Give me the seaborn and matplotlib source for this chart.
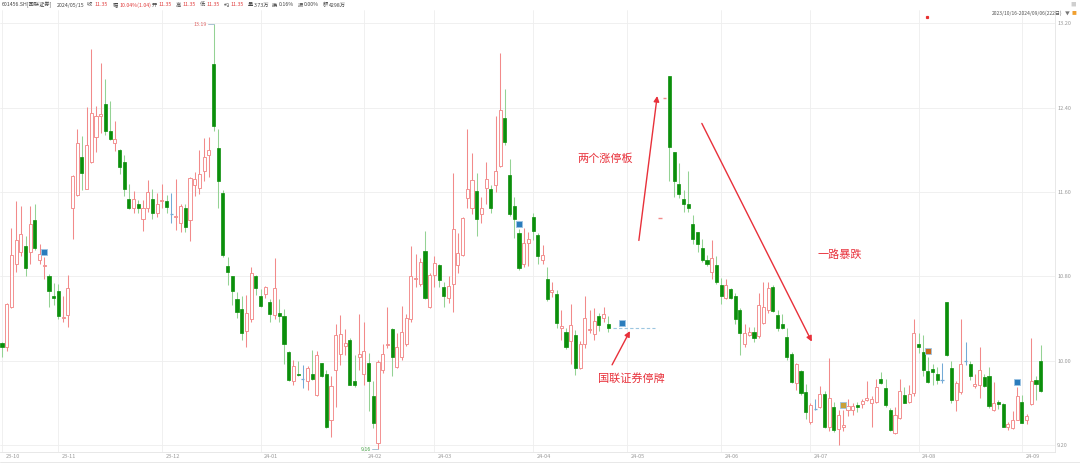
import numpy as np
import pandas as pd
import matplotlib
matplotlib.use("Agg")
import matplotlib.pyplot as plt
import matplotlib.transforms as mtransforms
import seaborn as sns

# trading calendar 2023-10-16 .. 2024-09-06 (SSE holidays removed)
holidays = ["2024-01-01", "2024-02-09", "2024-02-12", "2024-02-13", "2024-02-14",
            "2024-02-15", "2024-02-16", "2024-04-04", "2024-04-05",
            "2024-05-01", "2024-05-02", "2024-05-03", "2024-06-10"]
suspend_start, suspend_end = "2024-04-26", "2024-05-14"

# daily OHLC of traded days (suspension excluded)
opens = [
    10.17, 10.13, 10.51, 10.92, 11.03, 11.09, 11.03, 11.33, 10.95, 10.90,
    10.80, 10.61, 10.66, 10.40, 10.43, 11.45, 11.57, 11.93, 11.63, 11.88,
    12.12, 12.32, 12.43, 12.18, 12.06, 12.00, 11.88, 11.53, 11.45, 11.49,
    11.34, 11.45, 11.53, 11.40, 11.51, 11.51, 11.39, 11.36, 11.31, 11.45,
    11.33, 11.67, 11.64, 11.80, 11.95, 12.81, 12.02, 11.59, 10.90, 10.80,
    10.58, 10.49, 10.28, 10.39, 10.80, 10.61, 10.63, 10.56, 10.43, 10.45,
    10.42, 10.08, 9.81, 9.87, 9.83, 9.81, 9.87, 9.67, 9.98, 9.87,
    9.44, 9.91, 10.06, 10.14, 10.20, 9.81, 10.03, 9.87, 9.98, 9.66,
    9.22, 9.91, 10.15, 10.30, 9.94, 10.03, 10.16, 10.39, 10.77, 10.73,
    11.04, 10.51, 10.81, 10.91, 10.70, 10.59, 10.73, 10.91, 11.00, 11.54,
    11.45, 11.61, 11.39, 11.64, 11.63, 11.67, 11.85, 12.30, 11.76, 11.47,
    11.21, 10.92, 11.12, 11.36, 11.19, 10.95, 10.77, 10.65, 10.63, 10.31,
    10.27, 10.19, 10.24, 9.93, 10.16, 10.29, 10.25, 10.42, 10.40, 10.35,
    11.35, 12.49, 12.70, 11.98, 11.68, 11.53, 11.49, 11.30, 11.22, 11.07,
    10.95, 10.84, 10.91, 10.72, 10.59, 10.68, 10.61, 10.48, 10.16, 10.24,
    10.27, 10.23, 10.36, 10.48, 10.70, 10.43, 10.35, 10.22, 10.06, 9.79,
    9.90, 9.70, 9.42, 9.54, 9.56, 9.68, 9.37, 9.56, 9.35, 9.37,
    9.53, 9.53, 9.58, 9.59, 9.63, 9.60, 9.61, 9.83, 9.74, 9.53,
    9.31, 9.46, 9.67, 9.61, 9.69, 10.16, 10.08, 9.90, 9.92, 9.87,
    9.82, 10.56, 9.93, 9.63, 9.70, 10.00, 9.97, 9.76, 9.77, 9.84,
    9.85, 9.53, 9.61, 9.59, 9.37, 9.36, 9.44, 9.61, 9.44, 9.59, 9.82, 10.00,
]
highs = [
    10.18, 10.55, 11.26, 11.51, 11.47, 11.18, 11.47, 11.49, 11.11, 10.98,
    10.82, 10.74, 10.73, 10.61, 10.81, 11.76, 12.20, 12.13, 12.41, 12.96,
    12.42, 12.82, 12.67, 12.46, 12.27, 12.01, 11.95, 11.68, 11.61, 11.52,
    11.52, 11.71, 11.63, 11.59, 11.68, 11.57, 11.59, 11.72, 11.49, 11.49,
    11.74, 11.79, 12.00, 12.11, 12.12, 13.19, 12.20, 11.62, 10.98, 10.80,
    10.65, 10.61, 10.62, 10.89, 10.81, 10.68, 10.71, 10.58, 10.97, 10.58,
    10.49, 10.09, 10.01, 10.00, 9.96, 9.95, 10.10, 10.09, 9.98, 9.91,
    9.85, 10.35, 10.43, 10.30, 10.21, 10.05, 10.44, 10.37, 10.07, 9.81,
    10.01, 10.16, 10.51, 10.31, 10.26, 10.52, 10.44, 11.09, 11.01, 10.97,
    11.23, 10.83, 10.99, 10.92, 10.75, 10.80, 11.78, 11.21, 11.36, 12.20,
    11.97, 11.78, 11.55, 11.88, 11.67, 12.32, 12.92, 12.58, 11.91, 11.55,
    11.25, 11.26, 11.22, 11.40, 11.21, 11.10, 10.89, 10.75, 10.67, 10.48,
    10.31, 10.54, 10.29, 10.19, 10.61, 10.48, 10.50, 10.45, 10.51, 10.42,
    11.35, 12.49, 12.70, 11.98, 11.87, 11.62, 11.80, 11.38, 11.22, 11.15,
    11.00, 11.14, 10.99, 10.78, 10.77, 10.69, 10.64, 10.50, 10.35, 10.32,
    10.32, 10.64, 10.75, 10.75, 10.72, 10.48, 10.44, 10.31, 10.08, 9.98,
    9.91, 9.78, 9.60, 9.64, 9.76, 9.71, 10.02, 9.61, 9.53, 9.53,
    9.64, 9.60, 9.61, 9.64, 9.81, 9.66, 9.83, 9.89, 9.83, 9.55,
    9.56, 9.83, 9.75, 9.77, 10.39, 10.26, 10.24, 10.03, 9.97, 9.94,
    9.98, 10.56, 10.00, 9.81, 10.39, 10.18, 10.00, 9.87, 10.13, 9.87,
    9.94, 9.80, 9.63, 9.60, 9.42, 9.52, 9.75, 9.67, 9.49, 10.21, 9.85, 10.15,
]
lows = [
    10.03, 10.09, 10.50, 10.84, 10.99, 10.80, 10.92, 11.05, 10.92, 10.77,
    10.51, 10.53, 10.39, 10.37, 10.32, 11.15, 11.56, 11.62, 11.63, 11.87,
    11.98, 12.16, 12.14, 12.09, 11.99, 11.77, 11.56, 11.44, 11.40, 11.40,
    11.23, 11.41, 11.34, 11.36, 11.45, 11.40, 11.31, 11.24, 11.22, 11.22,
    11.13, 11.56, 11.58, 11.70, 11.74, 12.18, 11.45, 10.98, 10.72, 10.53,
    10.40, 10.20, 10.13, 10.37, 10.62, 10.51, 10.59, 10.37, 10.39, 10.37,
    9.97, 9.81, 9.77, 9.85, 9.74, 9.72, 9.82, 9.66, 9.84, 9.36,
    9.28, 9.56, 9.96, 10.05, 9.77, 9.75, 9.91, 9.77, 9.52, 9.36,
    9.16, 9.88, 10.12, 9.85, 9.93, 10.01, 10.14, 10.37, 10.70, 10.71,
    10.58, 10.50, 10.70, 10.70, 10.51, 10.55, 10.46, 10.83, 10.99, 11.45,
    11.39, 11.18, 11.31, 11.49, 11.40, 11.60, 11.84, 12.05, 11.37, 11.16,
    10.86, 10.89, 10.90, 11.14, 10.92, 10.92, 10.57, 10.60, 10.31, 10.20,
    10.11, 9.97, 9.86, 9.92, 10.12, 10.26, 10.20, 10.28, 10.37, 10.27,
    11.35, 12.49, 11.70, 11.55, 11.54, 11.41, 11.41, 11.11, 11.03, 10.94,
    10.90, 10.77, 10.73, 10.54, 10.58, 10.58, 10.35, 10.05, 10.13, 10.23,
    10.18, 10.21, 10.35, 10.45, 10.46, 10.28, 10.30, 10.01, 9.79, 9.72,
    9.67, 9.45, 9.40, 9.53, 9.55, 9.36, 9.33, 9.32, 9.20, 9.33,
    9.47, 9.48, 9.51, 9.55, 9.62, 9.37, 9.60, 9.78, 9.56, 9.33,
    9.30, 9.45, 9.60, 9.60, 9.66, 10.07, 9.85, 9.79, 9.77, 9.78,
    9.79, 10.04, 9.60, 9.52, 9.68, 9.96, 9.82, 9.74, 9.65, 9.75,
    9.55, 9.52, 9.54, 9.37, 9.34, 9.35, 9.44, 9.41, 9.40, 9.58, 9.63, 9.70,
]
closes = [
    10.13, 10.54, 11.00, 11.14, 11.20, 10.88, 11.30, 11.07, 11.01, 10.91,
    10.66, 10.59, 10.42, 10.41, 10.69, 11.75, 12.06, 11.78, 12.05, 12.35,
    12.32, 12.34, 12.18, 12.10, 12.10, 11.84, 11.63, 11.45, 11.53, 11.45,
    11.45, 11.60, 11.40, 11.49, 11.52, 11.46, 11.39, 11.37, 11.47, 11.27,
    11.73, 11.72, 11.77, 11.93, 12.00, 12.23, 11.70, 11.00, 10.84, 10.66,
    10.46, 10.26, 10.45, 10.83, 10.69, 10.52, 10.70, 10.44, 10.69, 10.42,
    10.16, 9.82, 9.95, 9.86, 9.83, 9.93, 9.83, 10.05, 9.85, 9.37,
    9.76, 10.24, 10.25, 10.17, 9.77, 9.77, 10.06, 10.09, 9.81, 9.41,
    9.99, 10.06, 10.16, 10.03, 10.13, 10.27, 10.40, 10.80, 10.78, 10.94,
    10.59, 10.81, 10.93, 10.76, 10.61, 10.71, 11.25, 11.02, 11.35, 11.63,
    11.71, 11.34, 11.45, 11.72, 11.45, 11.80, 12.38, 12.07, 11.39, 11.34,
    10.88, 11.12, 11.15, 11.23, 10.99, 11.00, 10.58, 10.67, 10.36, 10.33,
    10.13, 10.34, 9.93, 10.16, 10.40, 10.30, 10.38, 10.34, 10.44, 10.31,
    11.35, 12.49, 12.03, 11.70, 11.58, 11.49, 11.45, 11.15, 11.11, 10.95,
    10.92, 10.97, 10.75, 10.61, 10.72, 10.59, 10.39, 10.26, 10.26, 10.27,
    10.21, 10.53, 10.51, 10.69, 10.47, 10.31, 10.31, 10.03, 9.80, 9.97,
    9.69, 9.51, 9.58, 9.54, 9.68, 9.37, 9.65, 9.34, 9.48, 9.39,
    9.57, 9.57, 9.56, 9.62, 9.65, 9.64, 9.75, 9.79, 9.58, 9.34,
    9.48, 9.71, 9.60, 9.68, 10.26, 10.13, 9.91, 9.80, 9.89, 9.82,
    9.82, 10.05, 9.63, 9.79, 9.97, 10.00, 9.85, 9.78, 9.91, 9.76,
    9.57, 9.60, 9.59, 9.37, 9.40, 9.44, 9.66, 9.41, 9.47, 9.81, 9.78, 9.71,
]

# signal squares shown by the software (day number, price, kind)
signal_day = [9, 110, 132, 179, 197, 216]
signal_price = [11.03, 11.30, 10.36, 9.58, 10.09, 9.80]
signal_kind = ["b", "b", "b", "y", "o", "b"]

y_ticks = [9.20, 10.00, 10.80, 11.60, 12.40, 13.20]

# ---- build frame ----
dates = pd.bdate_range("2023-10-16", "2024-09-06")
dates = dates[~dates.isin(pd.to_datetime(holidays))]
suspended = (dates >= suspend_start) & (dates <= suspend_end)
df = pd.DataFrame(index=dates, columns=["open", "high", "low", "close"], dtype=float)
df.loc[~suspended, "open"] = opens
df.loc[~suspended, "high"] = highs
df.loc[~suspended, "low"] = lows
df.loc[~suspended, "close"] = closes
df["x"] = np.arange(len(df))

sns.set_theme(style="white")
plt.rcParams["font.family"] = ["Noto Sans CJK SC", "DejaVu Sans"]

RED = "#f28a8a"
GREEN = "#0b8f0b"
GREEN_WICK = "#94d294"
BLUE = "#74aad6"
GRID = "#eeeeee"
TXT = "#9a9a9a"
ANN = "#e8303a"

fig = plt.figure(figsize=(10.8, 4.63), dpi=100)
ax = fig.add_axes([0, 11 / 463, 1055 / 1080, 442 / 463])

d = df.dropna()
x = d["x"].values
o, h, l, c = d["open"].values, d["high"].values, d["low"].values, d["close"].values
up = c > o
dn = c < o
flat = c == o
one_price = flat & (h == l)
cross = flat & ~one_price
W = 0.66

# up candles: hollow red
ax.vlines(x[up], np.maximum(o, c)[up], h[up], color=RED, lw=0.75, zorder=2)
ax.vlines(x[up], l[up], np.minimum(o, c)[up], color=RED, lw=0.75, zorder=2)
ax.bar(x[up], (c - o)[up], bottom=o[up], width=W, facecolor="white",
       edgecolor=RED, linewidth=0.65, zorder=3)
# down candles: solid green
ax.vlines(x[dn], l[dn], h[dn], color=GREEN_WICK, lw=0.75, zorder=2)
ax.bar(x[dn], (o - c)[dn], bottom=c[dn], width=W, color=GREEN,
       edgecolor=GREEN, linewidth=0.5, zorder=3)
# doji
ax.vlines(x[cross], l[cross], h[cross], color=BLUE, lw=0.75, zorder=2)
ax.hlines(c[cross], x[cross] - W / 2, x[cross] + W / 2, color=BLUE, lw=0.9, zorder=3)
ax.hlines(c[one_price], x[one_price] - W / 2, x[one_price] + W / 2, color=RED, lw=1.0, zorder=3)

# suspension: dashed line at the last close
last_close = df.loc[~suspended & (df.index < suspend_start), "close"].iloc[-1]
susp = pd.DataFrame({"x": df["x"][suspended].values, "y": last_close})
sns.lineplot(data=susp, x="x", y="y", ax=ax, color="#9cc6e0", lw=0.8,
             linestyle=(0, (3, 2)), zorder=2)

# signal squares
sig = pd.DataFrame({"x": signal_day, "y": signal_price, "kind": signal_kind})
sns.scatterplot(data=sig, x="x", y="y", hue="kind", ax=ax, marker="s", s=18,
                palette={"b": "#2a7cbc", "y": "#c9a13a", "o": "#c8661e"},
                edgecolor="#9cc4e4", linewidth=0.6, legend=False, zorder=4)

# max / min labels
imax = d["high"].idxmax()
imin = d["low"].idxmin()
xmax, vmax = df.loc[imax, "x"], df.loc[imax, "high"]
xmin, vmin = df.loc[imin, "x"], df.loc[imin, "low"]
ax.plot([xmax - 1.2, xmax], [vmax, vmax], color="#9bb9cc", lw=0.6)
ax.text(xmax - 1.4, vmax, f"{vmax:.2f}", color="#e06666", fontsize=3.8, ha="right", va="center")
ax.plot([xmin - 1.2, xmin], [vmin, vmin], color="#9bb9cc", lw=0.6)
ax.text(xmin - 1.4, vmin, f"{vmin:.2f}", color="#3e9e3e", fontsize=3.8, ha="right", va="center")

# annotations
arrow = dict(arrowstyle="-|>", color=ANN, lw=1.0, mutation_scale=8, shrinkA=0, shrinkB=0)
ax.annotate("", xy=(139.4, 12.51), xytext=(135.5, 11.14), arrowprops=arrow)
ax.text(128.3, 11.92, "两个涨停板", color=ANN, fontsize=8, ha="center", va="center")
ax.annotate("", xy=(172.3, 10.18), xytext=(148.9, 12.25), arrowprops=arrow)
ax.text(178.3, 11.00, "一路暴跌", color=ANN, fontsize=8, ha="center", va="center")
ax.annotate("", xy=(133.6, 10.28), xytext=(129.8, 9.96), arrowprops=arrow)
ax.text(133.8, 9.83, "国联证券停牌", color=ANN, fontsize=8, ha="center", va="center")
ax.plot([196.8], [13.26], marker="s", color="#e83030", markersize=1.3)

# axes
ax.set_xlim(-0.43, 224.04)
ax.set_ylim(9.133, 13.326)
month_first = df.groupby(df.index.to_period("M"))["x"].min()
ax.set_xticks(month_first.values)
ax.set_xticklabels([p.strftime("%y-%m") for p in month_first.index])
ax.set_yticks(y_ticks)
ax.set_yticklabels([f"{v:.2f}" for v in y_ticks])
ax.yaxis.tick_right()
ax.tick_params(axis="y", length=0, pad=1.5, labelsize=4, labelcolor=TXT)
ax.tick_params(axis="x", length=0, pad=1.5, labelsize=4, labelcolor=TXT)
offset = mtransforms.ScaledTranslation(2.5 / 72, 0, fig.dpi_scale_trans)
for lab in ax.get_xticklabels():
    lab.set_ha("left")
    lab.set_transform(lab.get_transform() + offset)
ax.grid(True, color=GRID, lw=0.6)
ax.set_axisbelow(True)
ax.set_xlabel("")
ax.set_ylabel("")
for s in ["top", "left"]:
    ax.spines[s].set_visible(False)
for s in ["right", "bottom"]:
    ax.spines[s].set_color("#e4e4e4")
    ax.spines[s].set_linewidth(0.6)
fig.add_artist(plt.Line2D([0, 1], [1.2 / 463, 1.2 / 463], color="#e4e4e4", lw=0.6))

# header line
DARK = "#444444"
VAL = "#e03c3c"
header = [
    (2, "601456.SH[国联证券]", DARK), (57, "2024/05/15", DARK),
    (87, "收", DARK), (94, "11.35", VAL), (113, "幅", DARK), (119, "10.04%(1.04)", VAL),
    (152, "开", DARK), (158, "11.35", VAL), (176, "高", DARK), (182, "11.35", VAL),
    (200, "低", DARK), (206, "11.35", VAL), (224, "均", DARK), (230, "11.35", VAL),
    (248, "量", DARK), (254, "3.73万", DARK), (272, "换", DARK), (279, "0.16%", DARK),
    (298, "振", DARK), (304, "0.00%", DARK), (323, "额", DARK), (329, "4298万", DARK),
]
for px, s, col in header:
    fig.text(px / 1080, 1 - 5 / 463, s, fontsize=3.8, color=col, va="center", ha="left")
fig.text(1062 / 1080, 1 - 13 / 463, "2023/10/16-2024/09/06(222日)", fontsize=3.6,
         color="#555555", va="center", ha="right")
fig.text(1067 / 1080, 1 - 13 / 463, "▼", fontsize=3.5, color="#777777", va="center", ha="center")
fig.text(1074 / 1080, 1 - 13 / 463, "■", fontsize=3.5, color="#f0a030", va="center", ha="center")
fig.text(1073 / 1080, 1 - 4 / 463, "■", fontsize=4, color="#cfcfcf", va="center", ha="center")

fig.savefig("out.png", dpi=100)
